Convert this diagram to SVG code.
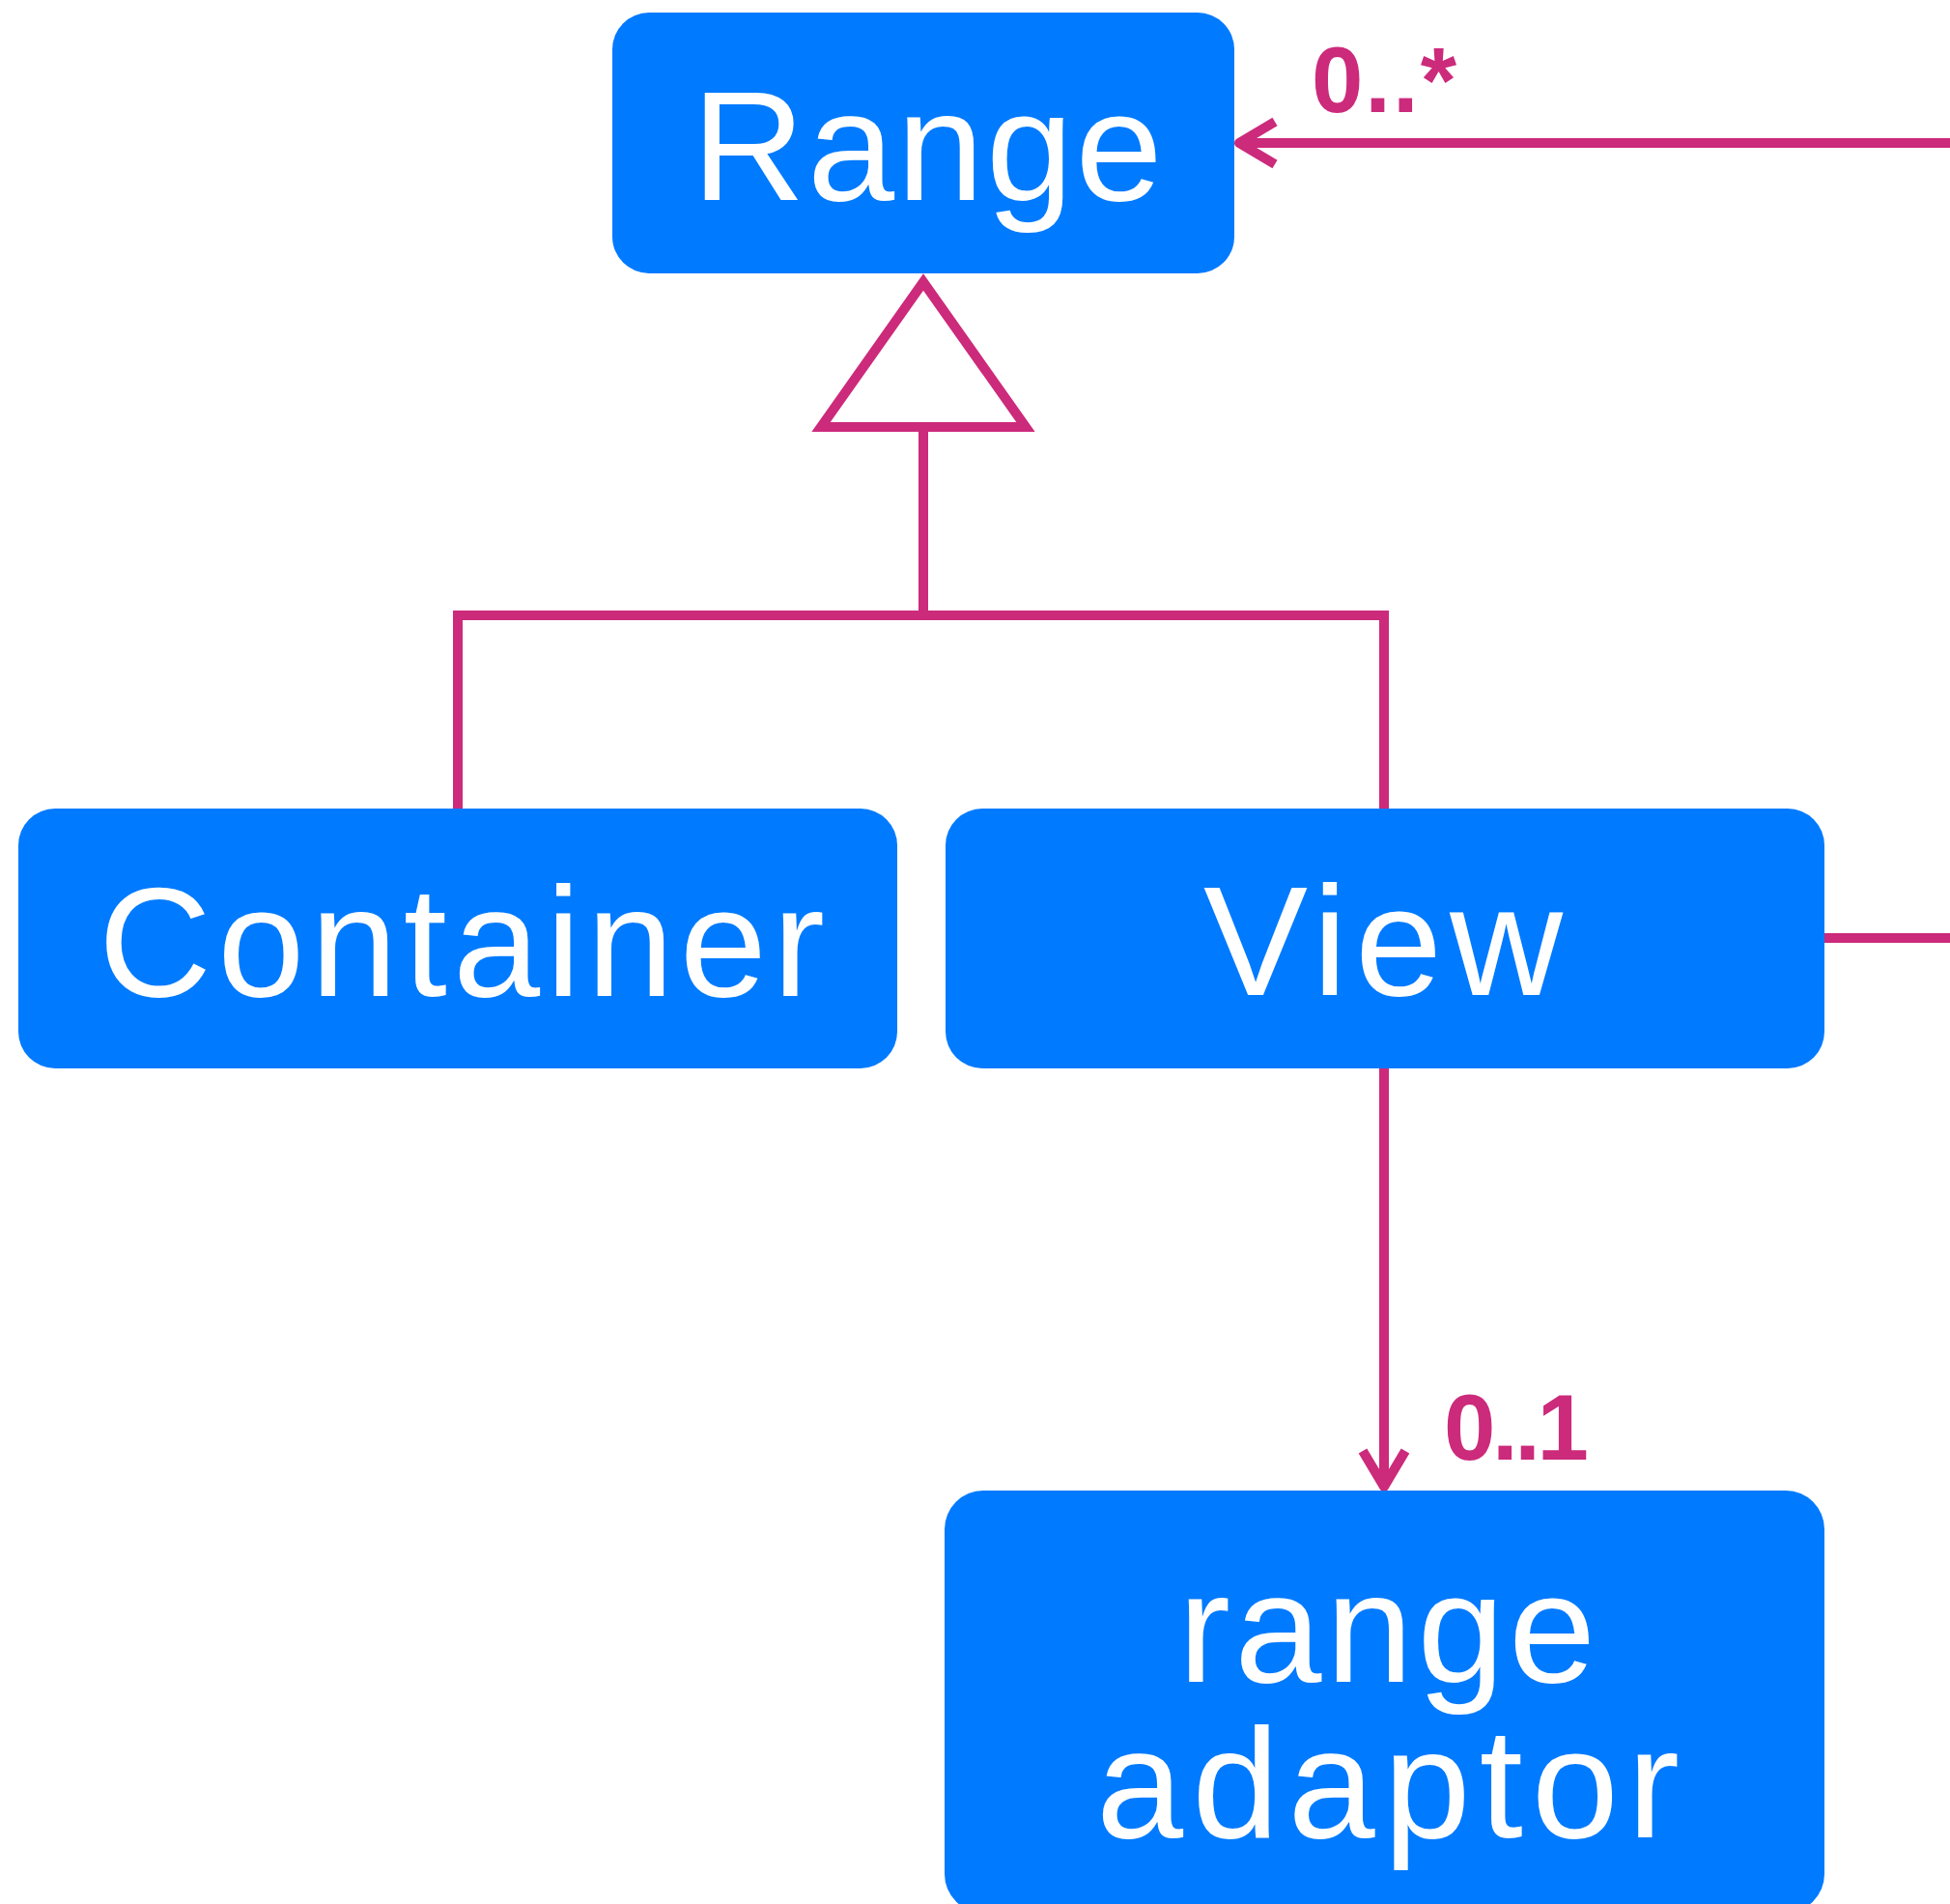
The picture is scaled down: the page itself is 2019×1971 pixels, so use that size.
<svg xmlns="http://www.w3.org/2000/svg" width="2019" height="1971" viewBox="0 0 2019 1971">
  <style>
    .box { fill: #007AFF; }
    .lbl { fill: #FFFFFF; font-family: "Liberation Sans", Arial, Helvetica, sans-serif; font-size: 162px; text-anchor: middle; }
    .mult { fill: #CC2A7B; font-family: "Liberation Sans", Arial, Helvetica, sans-serif; font-size: 96px; font-weight: bold; }
    .conn { fill: none; stroke: #CC2A7B; stroke-width: 10; }
    .head { fill: none; stroke: #CC2A7B; stroke-width: 10; stroke-linejoin: round; }
    .gen { fill: #FFFFFF; stroke: #CC2A7B; stroke-width: 10; stroke-linejoin: miter; }
  </style>
  <rect width="2019" height="1971" fill="#FFFFFF"/>

  <g id="connectors">
    <!-- inheritance tree -->
    <path class="conn" d="M474,837 V637 H1433 V837"/>
    <line class="conn" x1="956" y1="442" x2="956" y2="637"/>
    <polygon id="generalization" class="gen" points="956,292 1062,442 850,442"/>
    <!-- association to Range -->
    <line class="conn" x1="2019" y1="148" x2="1288" y2="148"/>
    <polyline class="head" points="1320,126 1283,148 1320,170"/>
    <!-- View to right -->
    <line class="conn" x1="1889" y1="971" x2="2019" y2="971"/>
    <!-- View to range adaptor -->
    <line class="conn" x1="1433" y1="1106" x2="1433" y2="1535"/>
    <polyline class="head" points="1411,1502 1433,1539 1455,1502"/>
  </g>

  <g id="range">
    <rect class="box" x="634" y="13" width="644" height="270" rx="38" ry="38"/>
    <text class="lbl" x="960" y="207" textLength="487" lengthAdjust="spacing">Range</text>
  </g>

  <g id="container">
    <rect class="box" x="19" y="837" width="910" height="269" rx="38" ry="38"/>
    <text class="lbl" x="478" y="1031" textLength="752" lengthAdjust="spacing">Container</text>
  </g>

  <g id="view">
    <rect class="box" x="979" y="837" width="910" height="269" rx="38" ry="38"/>
    <text class="lbl" x="1432" y="1030" textLength="372" lengthAdjust="spacing">View</text>
  </g>

  <g id="range-adaptor">
    <rect class="box" x="978" y="1543" width="911" height="437" rx="40" ry="40"/>
    <text class="lbl" x="1436" y="1741" textLength="432" lengthAdjust="spacing">range</text>
    <text class="lbl" x="1437" y="1902" textLength="604" lengthAdjust="spacing">adaptor</text>
  </g>

  <g id="multiplicities">
    <text class="mult" x="1358" y="116" textLength="150" lengthAdjust="spacing">0..*</text>
    <text class="mult" x="1495" y="1511" textLength="150" lengthAdjust="spacing">0..1</text>
  </g>
</svg>
